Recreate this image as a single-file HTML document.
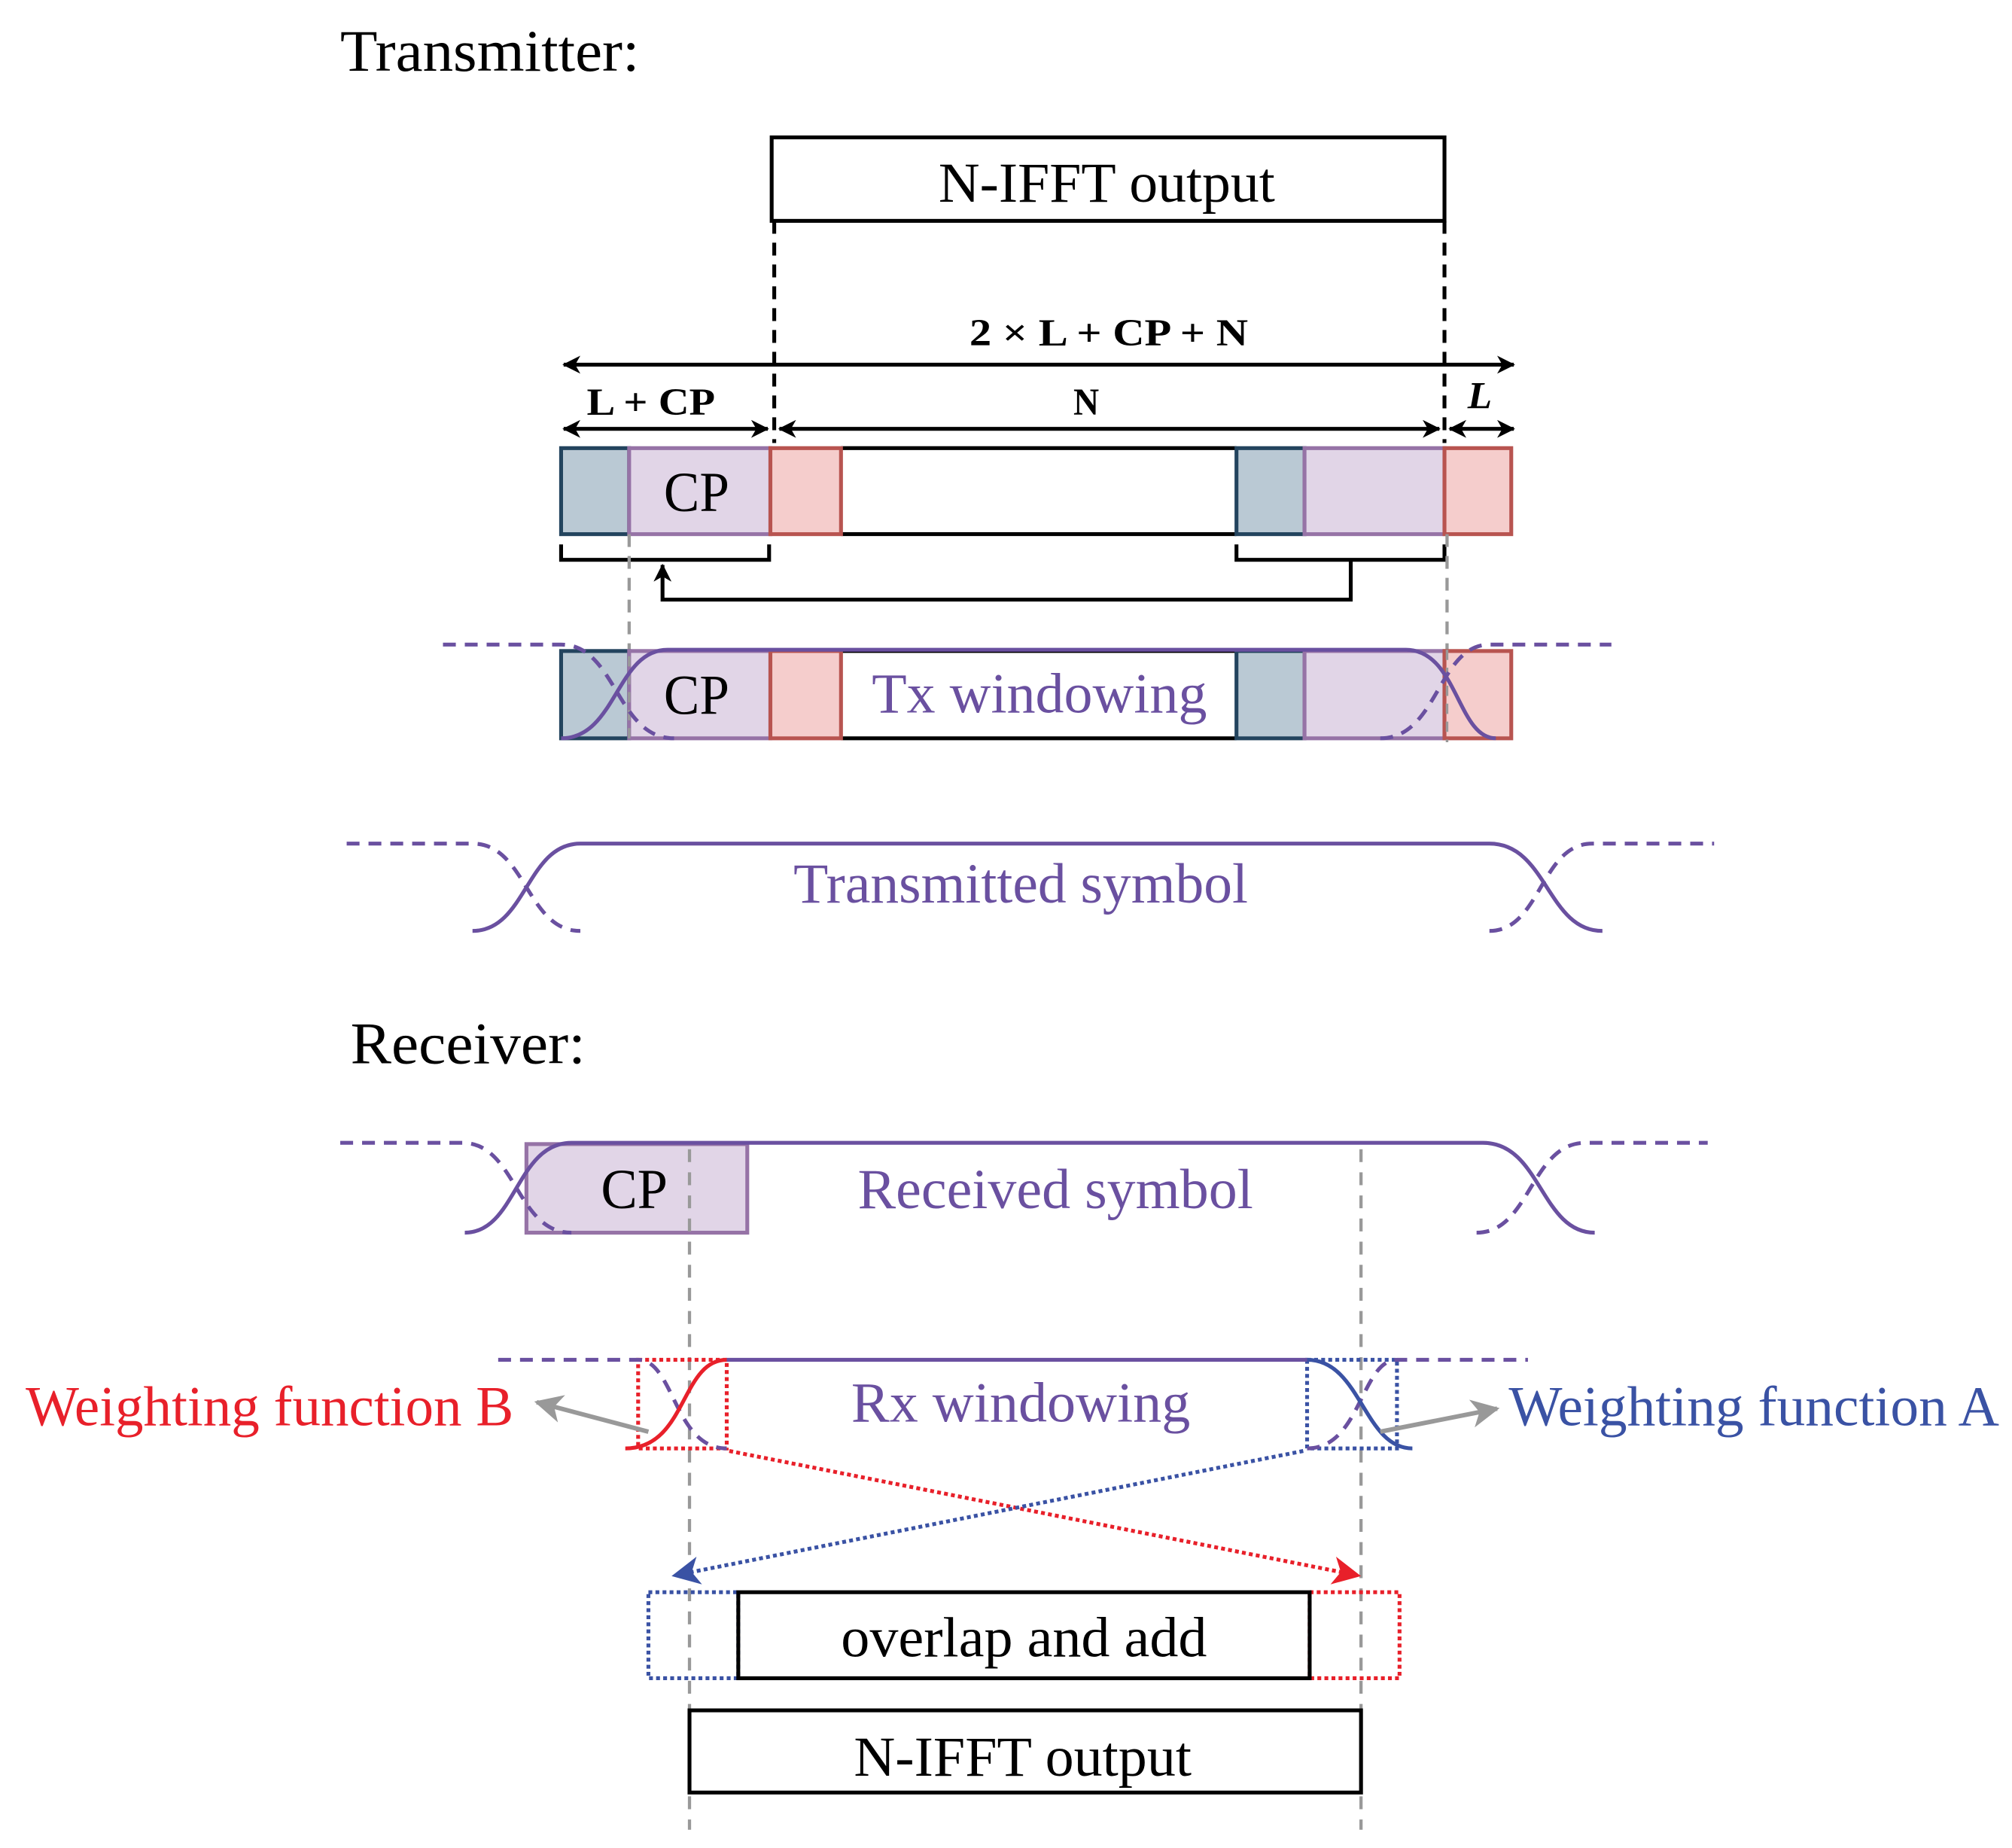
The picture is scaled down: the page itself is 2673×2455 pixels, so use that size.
<!DOCTYPE html>
<html><head><meta charset="utf-8"><style>
html,body{margin:0;padding:0;background:#fff}
svg{display:block}
text{font-family:"Liberation Serif",serif}
</style></head><body>
<svg width="2673" height="2455" viewBox="0 0 1567 1439.2" xmlns="http://www.w3.org/2000/svg">
<defs>
<marker id="ab" markerWidth="14" markerHeight="14" refX="13" refY="7" orient="auto-start-reverse" markerUnits="userSpaceOnUse"><path d="M0,0 L14,7 L0,14 L4,7 Z" fill="#000"/></marker>
<marker id="ag" markerWidth="22" markerHeight="22" refX="20" refY="11" orient="auto" markerUnits="userSpaceOnUse"><path d="M0,0 L22,11 L0,22 L6,11 Z" fill="#999"/></marker>
<marker id="ar" markerWidth="22" markerHeight="22" refX="20" refY="11" orient="auto" markerUnits="userSpaceOnUse"><path d="M0,0 L22,11 L0,22 L6,11 Z" fill="#e8202a"/></marker>
<marker id="abl" markerWidth="22" markerHeight="22" refX="20" refY="11" orient="auto" markerUnits="userSpaceOnUse"><path d="M0,0 L22,11 L0,22 L6,11 Z" fill="#3a52a4"/></marker>
</defs>

<text x="265" y="55" font-size="46" textLength="233" lengthAdjust="spacingAndGlyphs">Transmitter:</text>

<rect x="601" y="107" width="524" height="65" fill="#fff" stroke="#000" stroke-width="3"/>
<text x="731" y="157" font-size="44" textLength="262" lengthAdjust="spacingAndGlyphs">N-IFFT output</text>
<line x1="603" y1="172" x2="603" y2="345" stroke="#000" stroke-width="3" stroke-dasharray="10,7"/>
<line x1="1125" y1="172" x2="1125" y2="345" stroke="#000" stroke-width="3" stroke-dasharray="10,7"/>

<line x1="439" y1="284" x2="1179" y2="284" stroke="#000" stroke-width="3" marker-start="url(#ab)" marker-end="url(#ab)"/>
<text x="755" y="269" font-size="30" font-weight="bold" textLength="217" lengthAdjust="spacingAndGlyphs">2 × L + CP + N</text>
<line x1="439" y1="334" x2="598" y2="334" stroke="#000" stroke-width="3" marker-start="url(#ab)" marker-end="url(#ab)"/>
<text x="457" y="323" font-size="30" font-weight="bold" textLength="100" lengthAdjust="spacingAndGlyphs">L + CP</text>
<line x1="607" y1="334" x2="1121" y2="334" stroke="#000" stroke-width="3" marker-start="url(#ab)" marker-end="url(#ab)"/>
<text x="836" y="323" font-size="30" font-weight="bold" textLength="20" lengthAdjust="spacingAndGlyphs">N</text>
<line x1="1129" y1="334" x2="1179" y2="334" stroke="#000" stroke-width="3" marker-start="url(#ab)" marker-end="url(#ab)"/>
<text x="1143" y="318" font-size="30" font-style="italic" font-weight="bold" textLength="19" lengthAdjust="spacingAndGlyphs">L</text>

<g stroke-width="3">
<line x1="655" y1="349" x2="963" y2="349" stroke="#000"/>
<line x1="655" y1="416" x2="963" y2="416" stroke="#000"/>
<rect x="437" y="349" width="53" height="67" fill="#bac9d4" stroke="#23445e"/>
<rect x="490" y="349" width="110" height="67" fill="#e1d5e7" stroke="#9673a6"/>
<rect x="600" y="349" width="55" height="67" fill="#f5cdcc" stroke="#b85450"/>
<rect x="963" y="349" width="53" height="67" fill="#bac9d4" stroke="#23445e"/>
<rect x="1016" y="349" width="109" height="67" fill="#e1d5e7" stroke="#9673a6"/>
<rect x="1125" y="349" width="52" height="67" fill="#f5cdcc" stroke="#b85450"/>
</g>
<text x="517" y="398" font-size="44" textLength="51" lengthAdjust="spacingAndGlyphs">CP</text>

<path d="M437,424 V436 H599 V424" fill="none" stroke="#000" stroke-width="3"/>
<path d="M963,424 V436 H1125 V424" fill="none" stroke="#000" stroke-width="3"/>
<path d="M1052,436 V467 H516 V440" fill="none" stroke="#000" stroke-width="3" marker-end="url(#ab)"/>

<line x1="490" y1="416" x2="490" y2="506" stroke="#999" stroke-width="2.5" stroke-dasharray="10,7"/>
<line x1="1127" y1="416" x2="1127" y2="506" stroke="#999" stroke-width="2.5" stroke-dasharray="10,7"/>

<g stroke-width="3">
<line x1="655" y1="507" x2="963" y2="507" stroke="#000"/>
<line x1="655" y1="575" x2="963" y2="575" stroke="#000"/>
<rect x="437" y="507" width="53" height="68" fill="#bac9d4" stroke="#23445e"/>
<rect x="490" y="507" width="110" height="68" fill="#e1d5e7" stroke="#9673a6"/>
<rect x="600" y="507" width="55" height="68" fill="#f5cdcc" stroke="#b85450"/>
<rect x="963" y="507" width="53" height="68" fill="#bac9d4" stroke="#23445e"/>
<rect x="1016" y="507" width="109" height="68" fill="#e1d5e7" stroke="#9673a6"/>
<rect x="1125" y="507" width="52" height="68" fill="#f5cdcc" stroke="#b85450"/>
</g>
<line x1="490" y1="575" x2="490" y2="506" stroke="#999" stroke-width="2" stroke-dasharray="8,6"/>
<line x1="1127" y1="506" x2="1127" y2="578" stroke="#999" stroke-width="2" stroke-dasharray="8,6"/>
<g fill="none" stroke="#6a50a0" stroke-width="3">
<path d="M437,575 C480,575 480,506 520,506 H1095 C1135,506 1135,575 1165,575"/>
<path d="M345,502 H437 C480,502 480,575 525,575" stroke-dasharray="10,7"/>
<path d="M1075,575 C1120,575 1120,502 1160,502 H1255" stroke-dasharray="10,7"/>
</g>
<text x="517" y="556" font-size="44" textLength="51" lengthAdjust="spacingAndGlyphs">CP</text>
<text x="679" y="555" font-size="44" fill="#6a50a0" textLength="261" lengthAdjust="spacingAndGlyphs">Tx windowing</text>

<g fill="none" stroke="#6a50a0" stroke-width="3">
<path d="M368,725 C410,725 410,657 452,657 H1160 C1205,657 1205,725 1248,725"/>
<path d="M270,657 H368 C410,657 410,725 452,725" stroke-dasharray="10,7"/>
<path d="M1160,725 C1200,725 1200,657 1240,657 H1335" stroke-dasharray="10,7"/>
</g>
<text x="618" y="703" font-size="44" fill="#6a50a0" textLength="354" lengthAdjust="spacingAndGlyphs">Transmitted symbol</text>

<text x="273" y="828" font-size="46" textLength="183" lengthAdjust="spacingAndGlyphs">Receiver:</text>

<rect x="410" y="891" width="172" height="69" fill="#e1d5e7" stroke="#9673a6" stroke-width="3"/>
<g fill="none" stroke="#6a50a0" stroke-width="3">
<path d="M362,960 C402,960 402,890 445,890 H1155 C1200,890 1200,960 1242,960"/>
<path d="M265,890 H360 C402,890 402,960 445,960" stroke-dasharray="10,7"/>
<path d="M1150,960 C1192,960 1192,890 1235,890 H1330" stroke-dasharray="10,7"/>
</g>
<text x="468" y="941" font-size="44" textLength="52" lengthAdjust="spacingAndGlyphs">CP</text>
<text x="668" y="941" font-size="44" fill="#6a50a0" textLength="308" lengthAdjust="spacingAndGlyphs">Received symbol</text>

<line x1="537" y1="895" x2="537" y2="1425" stroke="#999" stroke-width="2.5" stroke-dasharray="10,8"/>
<line x1="1060" y1="895" x2="1060" y2="1425" stroke="#999" stroke-width="2.5" stroke-dasharray="10,8"/>

<rect x="497" y="1059" width="69" height="69" fill="none" stroke="#e8202a" stroke-width="3" stroke-dasharray="3,2.5"/>
<rect x="1018" y="1059" width="70" height="69" fill="none" stroke="#3a52a4" stroke-width="3" stroke-dasharray="3,2.5"/>
<g fill="none" stroke-width="3">
<path d="M388,1059 H497 C525,1059 525,1128 566,1128" stroke="#6a50a0" stroke-dasharray="10,7"/>
<path d="M1018,1128 C1060,1128 1060,1059 1088,1059 H1190" stroke="#6a50a0" stroke-dasharray="10,7"/>
<line x1="566" y1="1059" x2="1018" y2="1059" stroke="#6a50a0"/>
<path d="M487,1128 C535,1128 530,1059 566,1059" stroke="#e8202a"/>
<path d="M1018,1059 C1060,1059 1062,1128 1100,1128" stroke="#3a52a4"/>
</g>
<text x="663" y="1107" font-size="44" fill="#6a50a0" textLength="264" lengthAdjust="spacingAndGlyphs">Rx windowing</text>

<line x1="505" y1="1115" x2="418" y2="1092" stroke="#999" stroke-width="3.5" marker-end="url(#ag)"/>
<line x1="1075" y1="1115" x2="1166" y2="1097" stroke="#999" stroke-width="3.5" marker-end="url(#ag)"/>
<text x="20" y="1110" font-size="44" fill="#e8202a" textLength="380" lengthAdjust="spacingAndGlyphs">Weighting function B</text>
<text x="1175" y="1110" font-size="44" fill="#3a52a4" textLength="382" lengthAdjust="spacingAndGlyphs">Weighting function A</text>

<line x1="568" y1="1130" x2="1058" y2="1227" stroke="#e8202a" stroke-width="3" stroke-dasharray="3,2.5" marker-end="url(#ar)"/>
<line x1="1015" y1="1130" x2="525" y2="1227" stroke="#3a52a4" stroke-width="3" stroke-dasharray="3,2.5" marker-end="url(#abl)"/>

<rect x="505" y="1240" width="70" height="67" fill="none" stroke="#3a52a4" stroke-width="3" stroke-dasharray="3,2.5"/>
<rect x="1020" y="1240" width="70" height="67" fill="none" stroke="#e8202a" stroke-width="3" stroke-dasharray="3,2.5"/>
<rect x="575" y="1240" width="445" height="67" fill="none" stroke="#000" stroke-width="3"/>
<text x="655" y="1290" font-size="44" textLength="285" lengthAdjust="spacingAndGlyphs">overlap and add</text>

<rect x="537" y="1332" width="523" height="64" fill="#fff" stroke="#000" stroke-width="3"/>
<text x="665" y="1383" font-size="44" textLength="263" lengthAdjust="spacingAndGlyphs">N-IFFT output</text>
</svg>
</body></html>
